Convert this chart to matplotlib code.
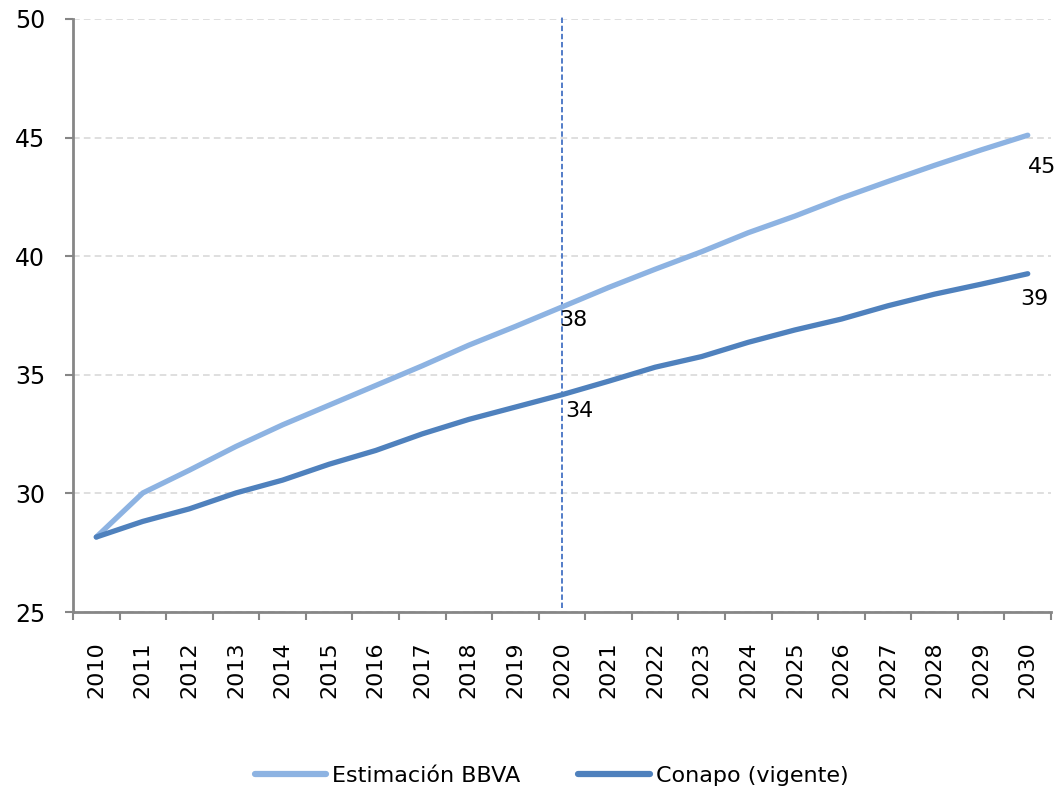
import matplotlib
matplotlib.use("Agg")
import matplotlib.pyplot as plt

years = [str(y) for y in range(2010, 2031)]
bbva = [28.16, 30.02, 30.98, 31.98, 32.89, 33.72, 34.55, 35.38, 36.25, 37.04, 37.86,
        38.68, 39.45, 40.19, 40.99, 41.69, 42.45, 43.15, 43.83, 44.48, 45.1]
conapo = [28.16, 28.82, 29.35, 30.02, 30.56, 31.23, 31.81, 32.51, 33.12, 33.64, 34.16,
          34.73, 35.32, 35.77, 36.37, 36.89, 37.35, 37.91, 38.4, 38.82, 39.26]
series_names = ["Estimación BBVA", "Conapo (vigente)"]
y_ticks = [25, 30, 35, 40, 45, 50]
marker_year = "2020"

light = "#8DB3E2"
dark = "#4F81BD"
axis_grey = "#868686"

plt.rcParams["font.family"] = ["DejaVu Sans"]

fig = plt.figure(figsize=(10.61, 7.90), dpi=100)
ax = fig.add_axes([0.0688, 0.2253, 0.9218, 0.7507])

x = list(range(len(years)))
ax.plot(x, bbva, color=light, lw=3.8, solid_capstyle="round", label=series_names[0], zorder=3)
ax.plot(x, conapo, color=dark, lw=3.8, solid_capstyle="round", label=series_names[1], zorder=3)

mx = years.index(marker_year)
ax.axvline(mx, ymin=0.007, ymax=1.007, color="#4472C4", lw=1.3, ls=(0, (3, 1.5)), zorder=2,
           clip_on=False)

ax.set_xlim(-0.5, len(years) - 0.5)
ax.set_ylim(25, 50)
ax.set_yticks(y_ticks)
ax.set_yticklabels([str(v) for v in y_ticks], fontsize=17)

ax.set_xticks([i - 0.5 for i in range(len(years) + 1)])
ax.set_xticklabels([])
ax.set_xticks(x, minor=True)
ax.set_xticklabels(years, minor=True, rotation=90, fontsize=16)
ax.tick_params(axis="x", which="major", length=6, width=1.5, color=axis_grey, direction="out")
ax.tick_params(axis="x", which="minor", length=0, pad=21)
ax.tick_params(axis="y", length=6, width=1.5, color=axis_grey, direction="out", pad=14)

for s in ["top", "right"]:
    ax.spines[s].set_visible(False)
for s in ["left", "bottom"]:
    ax.spines[s].set_color(axis_grey)
    ax.spines[s].set_linewidth(2)

ax.yaxis.grid(True, color="#D9D9D9", ls=(0, (4, 2.5)), lw=1.2)
ax.set_axisbelow(True)

# value labels at the 2020 marker and at the end of each series
labels = [
    (mx, bbva[mx], (-3, -13)),
    (mx, conapo[mx], (3, -16)),
    (len(years) - 1, bbva[-1], (0, -32)),
    (len(years) - 1, conapo[-1], (-7, -25)),
]
for xi, v, off in labels:
    ax.annotate(f"{round(v):d}", (xi, v), xytext=off, textcoords="offset pixels",
                ha="left", va="center", fontsize=16, color="black", zorder=4,
                annotation_clip=False)

leg = fig.legend(loc="lower center", bbox_to_anchor=(0.52, -0.02), ncol=2, frameon=False,
                 fontsize=16, handlelength=3.2, handletextpad=0.3, columnspacing=2.6)
for line in leg.get_lines():
    line.set_linewidth(4.5)

fig.savefig("out.png", dpi=100)
